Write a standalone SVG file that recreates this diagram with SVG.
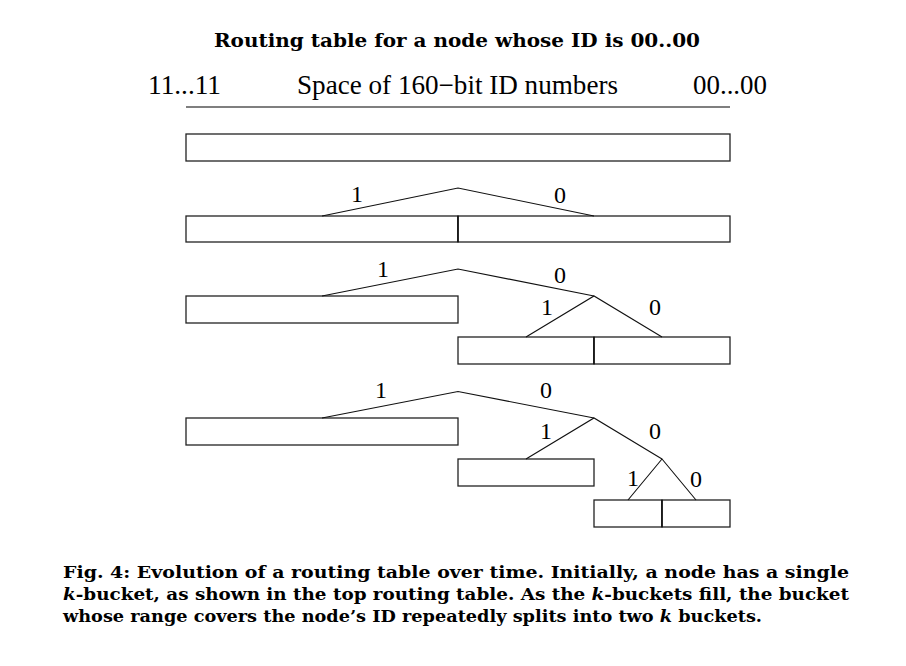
<svg xmlns="http://www.w3.org/2000/svg" width="906" height="666" viewBox="0 0 906 666">
<style>
.bk{fill:#fff;stroke:#222;stroke-width:1.3}
.dv{stroke:#111;stroke-width:1.5}
.br{stroke:#111;stroke-width:1.1;fill:none}
.lb{font-family:"Liberation Serif","Times New Roman",serif;font-size:24px;fill:#000;text-anchor:middle}
.hd{font-family:"Liberation Serif","Times New Roman",serif;font-size:27px;fill:#000}
.ti{font-family:"DejaVu Serif",serif;font-weight:bold;font-size:18px;fill:#000}
.cp{font-family:"DejaVu Serif",serif;font-weight:bold;font-size:17.5px;fill:#000}
.it{font-style:italic}
</style>
<rect width="906" height="666" fill="#fff"/>
<text class="ti" x="214" y="47" textLength="486" lengthAdjust="spacingAndGlyphs">Routing table for a node whose ID is 00..00</text>
<g id="header">
<text class="hd" x="148" y="94" textLength="73" lengthAdjust="spacingAndGlyphs">11...11</text>
<text class="hd" x="297" y="94" textLength="321" lengthAdjust="spacingAndGlyphs">Space of 160−bit ID numbers</text>
<text class="hd" x="693" y="94" textLength="74" lengthAdjust="spacingAndGlyphs">00...00</text>
<line x1="186" y1="107" x2="730" y2="107" stroke="#555" stroke-width="1.5"/>
</g>
<g id="row1">
<rect id="b1" class="bk" x="186" y="134" width="544" height="27"/>
</g>
<g id="row2">
<rect id="b2a" class="bk" x="186" y="216" width="272" height="26"/>
<rect id="b2b" class="bk" x="458" y="216" width="272" height="26"/>
<line class="dv" x1="458" y1="216" x2="458" y2="242"/>
</g>
<g id="row3">
<rect id="b3a" class="bk" x="186" y="296" width="272" height="27"/>
<rect id="b3b" class="bk" x="458" y="337" width="136" height="27"/>
<rect id="b3c" class="bk" x="594" y="337" width="136" height="27"/>
<line class="dv" x1="594" y1="337" x2="594" y2="364"/>
</g>
<g id="row4">
<rect id="b4a" class="bk" x="186" y="418" width="272" height="27"/>
<rect id="b4b" class="bk" x="458" y="459" width="136" height="27"/>
<rect id="b4c" class="bk" x="594" y="500" width="68" height="27"/>
<rect id="b4d" class="bk" x="662" y="500" width="68" height="27"/>
<line class="dv" x1="662" y1="500" x2="662" y2="527"/>
</g>
<g id="connectors">
<polyline class="br" points="322,216 458,188 594,216"/>
<polyline class="br" points="322,296 458,269 594,296"/>
<polyline class="br" points="526,337 594,296 662,337"/>
<polyline class="br" points="322,418 458,391.5 594,418"/>
<polyline class="br" points="526,459 594,418 662,459"/>
<polyline class="br" points="628,500 662,459 696,500"/>
</g>
<g id="labels">
<text class="lb" x="357" y="202">1</text>
<text class="lb" x="560" y="203">0</text>
<text class="lb" x="383" y="277">1</text>
<text class="lb" x="560" y="283">0</text>
<text class="lb" x="547" y="315">1</text>
<text class="lb" x="655" y="315">0</text>
<text class="lb" x="381" y="398">1</text>
<text class="lb" x="546" y="398">0</text>
<text class="lb" x="546" y="439">1</text>
<text class="lb" x="655" y="439">0</text>
<text class="lb" x="633" y="486">1</text>
<text class="lb" x="696" y="487">0</text>
</g>
<g id="caption">
<text class="cp" x="63" y="578" textLength="786" lengthAdjust="spacingAndGlyphs">Fig. 4: Evolution of a routing table over time. Initially, a node has a single</text>
<text class="cp" x="63" y="600" textLength="786" lengthAdjust="spacingAndGlyphs"><tspan class="it">k</tspan>-bucket, as shown in the top routing table. As the <tspan class="it">k</tspan>-buckets fill, the bucket</text>
<text class="cp" x="63" y="622" textLength="699" lengthAdjust="spacingAndGlyphs">whose range covers the node’s ID repeatedly splits into two <tspan class="it">k</tspan> buckets.</text>
</g>
</svg>
